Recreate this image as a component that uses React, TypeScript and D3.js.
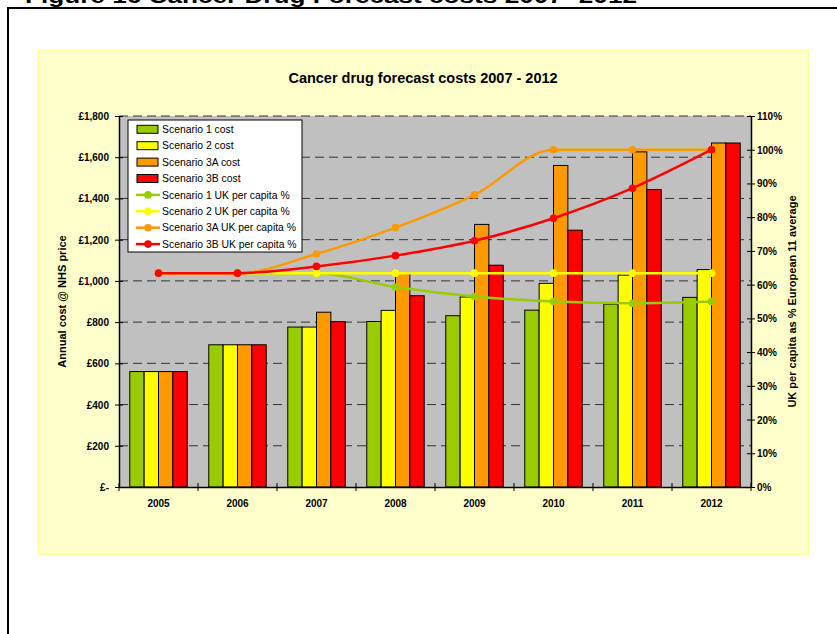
import { useEffect, useRef } from 'react'
import * as d3 from 'd3'

// data
const years = ['2005', '2006', '2007', '2008', '2009', '2010', '2011', '2012']
const costS1 = [560, 690, 776, 803, 831, 858, 887, 920]
const costS2 = [560, 690, 776, 857, 922, 988, 1028, 1055]
const costS3A = [560, 690, 848, 1036, 1274, 1560, 1626, 1669]
const costS3B = [560, 690, 802, 928, 1076, 1246, 1443, 1669]
const pctS1 = [63.4, 63.4, 63.4, 59.3, 56.5, 55.0, 54.5, 55.0]
const pctS2 = [63.4, 63.4, 63.4, 63.4, 63.4, 63.4, 63.4, 63.4]
const pctS3A = [63.4, 63.4, 69.1, 76.9, 86.6, 100, 100, 100]
const pctS3B = [63.4, 63.4, 65.4, 68.6, 73.0, 79.7, 88.6, 100]
const costTicks = [0, 200, 400, 600, 800, 1000, 1200, 1400, 1600, 1800]
const pctTicks = [0, 10, 20, 30, 40, 50, 60, 70, 80, 90, 100, 110]

const barSeries = [
  { key: 'Scenario 1 cost', color: '#99CC00', values: costS1 },
  { key: 'Scenario 2 cost', color: '#FFFF00', values: costS2 },
  { key: 'Scenario 3A cost', color: '#FF9900', values: costS3A },
  { key: 'Scenario 3B cost', color: '#FF0000', values: costS3B },
]
const lineSeries = [
  { key: 'Scenario 1 UK per capita %', color: '#99CC00', values: pctS1 },
  { key: 'Scenario 2 UK per capita %', color: '#FFFF00', values: pctS2 },
  { key: 'Scenario 3A UK per capita %', color: '#FF9900', values: pctS3A },
  { key: 'Scenario 3B UK per capita %', color: '#FF0000', values: pctS3B },
]

const W = 837
const H = 634
const P = { left: 119, right: 751, top: 116, bottom: 487 }
const FONT = 'Arial, "Liberation Sans", sans-serif'

export default function App() {
  const svgRef = useRef<SVGSVGElement>(null)

  useEffect(() => {
    const svg = d3.select(svgRef.current)
    svg.selectAll('*').remove()
    svg.attr('viewBox', `0 0 ${W} ${H}`).attr('font-family', FONT)

    // ── page frame + figure caption (cut off at top) ──
    svg.append('rect').attr('width', W).attr('height', H).attr('fill', '#fff')
    svg.append('text')
      .attr('x', 25).attr('y', 3)
      .attr('font-size', 20).attr('font-weight', 700).attr('fill', '#000')
      .attr('textLength', 612).attr('lengthAdjust', 'spacingAndGlyphs')
      .text('Figure 16 Cancer Drug Forecast costs 2007- 2012')
    svg.append('path')
      .attr('d', `M8,${H + 5} V8 H${W + 5}`)
      .attr('fill', 'none').attr('stroke', '#000').attr('stroke-width', 2)

    // ── chart panel ──
    svg.append('rect')
      .attr('x', 38.5).attr('y', 50.5).attr('width', 770).attr('height', 504)
      .attr('fill', '#FFFFCC').attr('stroke', '#FFFF99').attr('stroke-width', 1.5)

    svg.append('text')
      .attr('x', 423).attr('y', 83)
      .attr('text-anchor', 'middle').attr('font-size', 14.5).attr('font-weight', 700)
      .text('Cancer drug forecast costs 2007 - 2012')

    const x = d3.scaleBand<string>().domain(years).range([P.left, P.right])
    const xb = d3.scaleBand<string>()
      .domain(barSeries.map((s) => s.key))
      .range([0, x.bandwidth()])
      .paddingInner(0).paddingOuter(0.75)
    const yL = d3.scaleLinear().domain([0, 1800]).range([P.bottom, P.top])
    const yR = d3.scaleLinear().domain([0, 110]).range([P.bottom, P.top])

    // plot area
    svg.append('rect')
      .attr('x', P.left).attr('y', P.top)
      .attr('width', P.right - P.left).attr('height', P.bottom - P.top)
      .attr('fill', '#C0C0C0')

    // gridlines
    svg.append('g').selectAll('line')
      .data(costTicks.filter((t) => t > 0))
      .join('line')
      .attr('x1', P.left).attr('x2', P.right)
      .attr('y1', (d) => yL(d)).attr('y2', (d) => yL(d))
      .attr('stroke', '#333').attr('stroke-width', 1)
      .attr('stroke-dasharray', '9 5')

    // bars
    const groups = svg.append('g').selectAll('g')
      .data(years)
      .join('g')
      .attr('transform', (d) => `translate(${x(d)},0)`)
    groups.selectAll('rect')
      .data((_, i) => barSeries.map((s) => ({ key: s.key, color: s.color, v: s.values[i] })))
      .join('rect')
      .attr('x', (d) => xb(d.key)!)
      .attr('width', xb.bandwidth())
      .attr('y', (d) => yL(d.v))
      .attr('height', (d) => P.bottom - yL(d.v))
      .attr('fill', (d) => d.color)
      .attr('stroke', '#000').attr('stroke-width', 1)

    // lines (smoothed, no overshoot)
    const cx = (i: number) => x(years[i])! + x.bandwidth() / 2
    const lineGen = d3.line<number>()
      .x((_, i) => cx(i))
      .y((d) => yR(d))
      .curve(d3.curveMonotoneX)
    lineSeries.forEach((s) => {
      svg.append('path').datum(s.values).attr('d', lineGen)
        .attr('fill', 'none').attr('stroke', s.color).attr('stroke-width', 2.5)
      svg.append('g').selectAll('circle')
        .data(s.values)
        .join('circle')
        .attr('cx', (_, i) => cx(i)).attr('cy', (d) => yR(d))
        .attr('r', 3.8).attr('fill', s.color)
    })

    // ── axes ──
    const axL = svg.append('g').attr('transform', `translate(${P.left},0)`)
      .call(d3.axisLeft(yL).tickValues(costTicks).tickSize(0)
        .tickFormat((d) => (+d === 0 ? '£-' : '£' + d3.format(',')(+d))))
    axL.select('.domain').attr('stroke', '#000').attr('stroke-width', 1.5)
    axL.selectAll('.tick text').attr('x', -10).attr('dy', '0.35em')
      .attr('font-size', 10).attr('font-weight', 700).attr('font-family', FONT)
    axL.selectAll('.tick').append('line').attr('x1', -4).attr('x2', 4).attr('stroke', '#000')

    const axR = svg.append('g').attr('transform', `translate(${P.right},0)`)
      .call(d3.axisRight(yR).tickValues(pctTicks).tickSize(0).tickFormat((d) => `${d}%`))
    axR.select('.domain').attr('stroke', '#000').attr('stroke-width', 1.5)
    axR.selectAll('.tick text').attr('x', 6).attr('dy', '0.35em')
      .attr('font-size', 10).attr('font-weight', 700).attr('font-family', FONT)
    axR.selectAll('.tick').append('line').attr('x1', -4).attr('x2', 4).attr('stroke', '#000')

    const axB = svg.append('g').attr('transform', `translate(0,${P.bottom})`)
      .call(d3.axisBottom(x).tickSize(0))
    axB.select('.domain').attr('stroke', '#000').attr('stroke-width', 1.5)
    axB.selectAll('.tick text').attr('y', 16).attr('dy', '0.35em')
      .attr('font-size', 10).attr('font-weight', 700).attr('font-family', FONT)
    svg.append('g').selectAll('line')
      .data(d3.range(years.length + 1))
      .join('line')
      .attr('x1', (i) => P.left + i * x.step()).attr('x2', (i) => P.left + i * x.step())
      .attr('y1', P.bottom - 4).attr('y2', P.bottom + 4)
      .attr('stroke', '#000')

    // axis titles
    svg.append('text')
      .attr('transform', `translate(66,${(P.top + P.bottom) / 2}) rotate(-90)`)
      .attr('text-anchor', 'middle').attr('font-size', 11).attr('font-weight', 700)
      .text('Annual cost @ NHS price')
    svg.append('text')
      .attr('transform', `translate(796,${(P.top + P.bottom) / 2}) rotate(-90)`)
      .attr('text-anchor', 'middle').attr('font-size', 11).attr('font-weight', 700)
      .text('UK per capita as % European 11 average')

    // ── legend ──
    const leg = svg.append('g').attr('transform', 'translate(128,120)')
    leg.append('rect').attr('width', 174).attr('height', 132)
      .attr('fill', '#fff').attr('stroke', '#000').attr('stroke-width', 1)
    const rowY = (i: number) => 9.3 + i * 16.4
    barSeries.forEach((s, i) => {
      leg.append('rect')
        .attr('x', 9).attr('y', rowY(i) - 4).attr('width', 21).attr('height', 8)
        .attr('fill', s.color).attr('stroke', '#000').attr('stroke-width', 1)
      leg.append('text').attr('x', 34).attr('y', rowY(i)).attr('dy', '0.35em')
        .attr('font-size', 10.4).text(s.key)
    })
    lineSeries.forEach((s, j) => {
      const i = j + 4
      leg.append('line')
        .attr('x1', 8).attr('x2', 32).attr('y1', rowY(i)).attr('y2', rowY(i))
        .attr('stroke', s.color).attr('stroke-width', 2.5)
      leg.append('circle').attr('cx', 20).attr('cy', rowY(i)).attr('r', 3.8).attr('fill', s.color)
      leg.append('text').attr('x', 34).attr('y', rowY(i)).attr('dy', '0.35em')
        .attr('font-size', 10.4).text(s.key)
    })
  }, [])

  return (
    <svg ref={svgRef} width={W} height={H}
      style={{ position: 'absolute', left: 0, top: 0, display: 'block' }} />
  )
}
